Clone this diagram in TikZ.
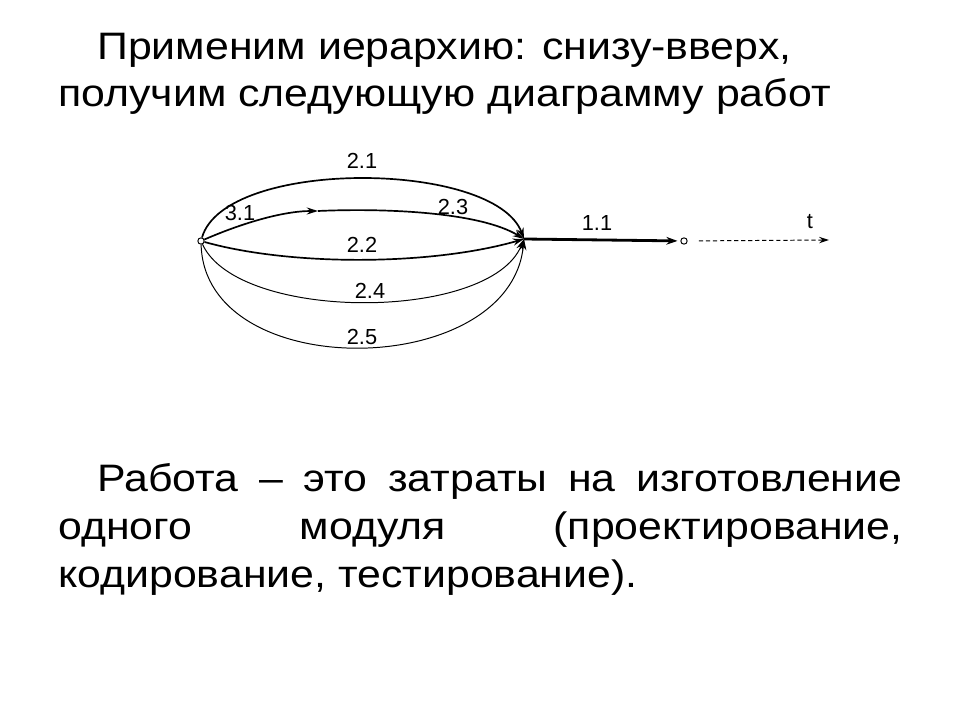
\documentclass[tikz,border=0pt]{standalone}
\usepackage{fontspec}
\setmainfont{Liberation Sans}
\newfontfamily\slidefont[FakeStretch=1.12]{Liberation Sans}
\usetikzlibrary{arrows.meta}

\begin{document}
\begin{tikzpicture}[x=0.025cm,y=-0.025cm,
    every node/.style={inner sep=0pt},
    event/.style={circle,draw,line width=0.7pt,minimum size=4.5pt},
    work/.style={line width=1.2pt,-{Stealth[length=8pt,width=5pt]}},
    thinwork/.style={line width=0.7pt,-{Stealth[length=8pt,width=5pt]}},
    lab/.style={font=\fontsize{15.5}{18}\selectfont},
    slide/.style={font=\slidefont\fontsize{27.2}{34}\selectfont}]
        \useasboundingbox (0,0) rectangle (960,720);

        % Heading
        \node[slide,anchor=base west,align=left] (title) at (58,107)
          {\hspace*{0.975cm}Применим иерархию: снизу-вверх,\\получим следующую диаграмму работ};

        % Events
        \node[event] (s) at (201,241) {};
        \coordinate (m) at (318,211);
        \coordinate (e) at (524,239);
        \node[event] (f) at (684,241) {};
        \coordinate (tend) at (829,240);

        % Works
        \draw[work] (s) .. controls (225,158) and (495,160) .. (e);
        \draw[work] (s) .. controls (240,224) and (282,211) .. (m);
        \draw[work] (m) .. controls (385,208) and (480,212) .. (e);
        \draw[work] (s) .. controls (290,266) and (430,266) .. (e);
        \draw[thinwork] (s) .. controls (238,322) and (490,322) .. (e);
        \draw[thinwork] (s) .. controls (205,385) and (510,380) .. (e);
        \draw[line width=2pt,-{Stealth[length=8pt,width=5.5pt]},shorten >=2pt] (e) -- (f);
        \draw[dashed,line width=0.7pt,dash pattern=on 3pt off 2pt,
              -{Stealth[length=7pt,width=4.5pt]},shorten <=8pt] (f) -- (tend);

        % Labels
        \node[lab] (l21) at (362,161) {2.1};
        \node[lab] (l31) at (240,213) {3.1};
        \node[lab] (l23) at (453,207) {2.3};
        \node[lab] (l22) at (362,245) {2.2};
        \node[lab] (l24) at (370,291) {2.4};
        \node[lab] (l25) at (362,337) {2.5};
        \node[lab] (l11) at (597,223) {1.1};
        \node[lab] (lt) at (810,222) {t};

        % Definition
        \node[slide,anchor=base west,text width=21.1cm,align=justify] (def) at (58,492)
          {\hyphenpenalty=10000\hspace*{0.975cm}Работа – это затраты на изготовление\linebreak
           одного модуля (проектирование,\linebreak
           кодирование, тестирование).};
\end{tikzpicture}
\end{document}
